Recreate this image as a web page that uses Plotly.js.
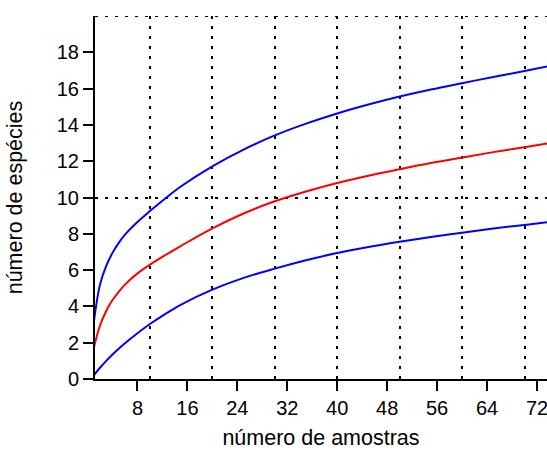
<!DOCTYPE html>
<html>
<head>
<meta charset="utf-8">
<script src="https://cdn.plot.ly/plotly-3.0.1.min.js"></script>
<style>html,body{margin:0;padding:0;background:#fff;}#chart{width:547px;height:450px;}</style>
</head>
<body>
<div id="chart"></div>
<script>
// sample counts (x)
const amostras = [1, 2, 3, 4, 5, 6, 8, 10, 12, 15, 20, 25, 30, 35, 40, 45, 50, 55, 60, 65, 70, 74];
// expected species (red)
const especiesMedia = [1.7, 2.95, 3.75, 4.35, 4.8, 5.2, 5.82, 6.3, 6.73, 7.34, 8.3, 9.12, 9.79, 10.33, 10.8, 11.2, 11.56, 11.9, 12.2, 12.5, 12.77, 13.0];
// upper confidence bound (blue)
const especiesSuperior = [3.1, 5.2, 6.23, 6.95, 7.5, 7.95, 8.65, 9.25, 9.82, 10.62, 11.72, 12.64, 13.42, 14.07, 14.63, 15.12, 15.56, 15.95, 16.3, 16.64, 16.97, 17.25];
// lower confidence bound (blue)
const especiesInferior = [0.2, 0.62, 1.0, 1.35, 1.67, 1.97, 2.52, 3.03, 3.48, 4.1, 4.92, 5.57, 6.08, 6.54, 6.94, 7.27, 7.56, 7.82, 8.06, 8.29, 8.49, 8.65];

const xTicks = [8, 16, 24, 32, 40, 48, 56, 64, 72];
const yTicks = [0, 2, 4, 6, 8, 10, 12, 14, 16, 18];
const xGrid = [10, 20, 30, 40, 50, 60, 70];
const yGrid = [10];

const xRange = [1.2, 73.6];
const yRange = [0, 20];

const font = 'Liberation Sans, Arial, sans-serif';
const dotted = '3px,7px';
const lineStyle = (c) => ({color: c, width: 2, shape: 'spline', smoothing: 1});

const traces = [
  {x: amostras, y: especiesSuperior, mode: 'lines', line: lineStyle('#0000ff'), hoverinfo: 'skip'},
  {x: amostras, y: especiesMedia, mode: 'lines', line: lineStyle('#ff0000'), hoverinfo: 'skip'},
  {x: amostras, y: especiesInferior, mode: 'lines', line: lineStyle('#0000ff'), hoverinfo: 'skip'},
  {x: [], y: [], xaxis: 'x2', yaxis: 'y2', mode: 'lines', hoverinfo: 'skip'}
];

const gridAxis = {
  showgrid: true, gridcolor: '#000', gridwidth: 2, griddash: dotted,
  showline: false, zeroline: false, ticks: '', showticklabels: false,
  tickmode: 'array'
};

const layout = {
  width: 547, height: 450,
  margin: {l: 95, r: 0, t: 16, b: 71, pad: 0},
  paper_bgcolor: '#fff', plot_bgcolor: '#fff',
  showlegend: false,
  font: {family: font, color: '#000', size: 20},
  xaxis: {
    range: xRange, tickmode: 'array', tickvals: xTicks,
    showgrid: false, zeroline: false,
    showline: true, linecolor: '#000', linewidth: 2,
    ticks: 'outside', ticklen: 10, tickwidth: 2, tickcolor: '#000',
    ticklabeloverflow: 'allow',
    tickfont: {family: font, size: 20, color: '#000'},
    title: {text: 'número de amostras', font: {family: font, size: 21.5, color: '#000'}}
  },
  yaxis: {
    range: yRange, tickmode: 'array', tickvals: yTicks,
    showgrid: false, zeroline: false,
    showline: true, linecolor: '#000', linewidth: 2,
    ticks: 'outside', ticklen: 10, tickwidth: 2, tickcolor: '#000',
    ticklabeloverflow: 'allow',
    tickfont: {family: font, size: 20, color: '#000'},
    title: {text: 'número de espécies', standoff: 28, font: {family: font, size: 21.5, color: '#000'}}
  },
  xaxis2: Object.assign({}, gridAxis, {overlaying: 'x', anchor: 'y', range: xRange, tickvals: xGrid}),
  yaxis2: Object.assign({}, gridAxis, {overlaying: 'y', anchor: 'x', range: yRange, tickvals: yGrid}),
  shapes: [
    {type: 'line', xref: 'paper', x0: 0, x1: 1, yref: 'y', y0: yRange[1], y1: yRange[1],
     line: {color: '#000', width: 2, dash: dotted}, layer: 'below'}
  ]
};

Plotly.newPlot('chart', traces, layout, {staticPlot: true, displayModeBar: false});
</script>
</body>
</html>
